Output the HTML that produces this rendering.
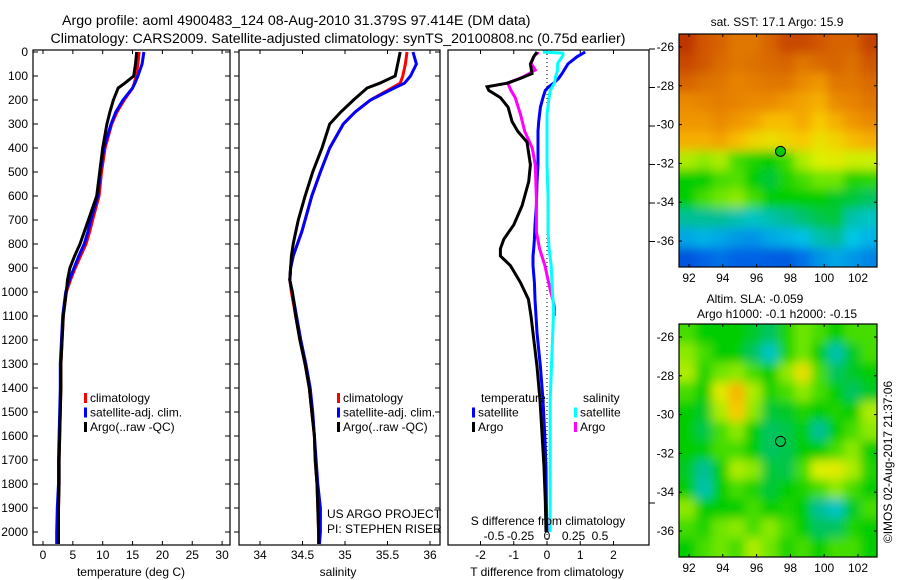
<!DOCTYPE html>
<html><head><meta charset="utf-8"><style>
html,body{margin:0;padding:0;background:#fff}
svg{display:block;font-family:"Liberation Sans",sans-serif;font-size:12px}
</style></head><body>
<svg id="c" width="900" height="580" viewBox="0 0 900 580" xmlns="http://www.w3.org/2000/svg">
<defs>
<filter id="bl" x="0" y="0" width="1" height="1"><feGaussianBlur stdDeviation="5"/></filter>
<clipPath id="clipA"><rect x="679" y="34" width="198" height="233"/></clipPath>
<clipPath id="clipB"><rect x="679" y="324" width="198" height="233"/></clipPath>
</defs>
<text x="62" y="25" font-size="14.2">Argo profile: aoml 4900483_124 08-Aug-2010 31.379S 97.414E (DM data)</text>
<text x="338" y="43" font-size="14.2" text-anchor="middle">Climatology: CARS2009. Satellite-adjusted climatology: synTS_20100808.nc (0.75d earlier)</text>
<g id="g"></g>
</svg>
<script>
// ---------- data ----------
const depthT = [0,50,100,130,150,200,250,300,400,500,600,700,750,800,850,900,950,1000,1100,1200,1300,1400,1500,1600,1700,1800,1900,2000,2050];
const tempClim = [16.1,15.9,15.6,15.3,15.0,13.6,12.4,11.5,10.4,9.8,9.4,8.3,7.8,7.2,6.3,5.4,4.6,3.9,3.4,3.2,3.0,3.0,2.9,2.8,2.7,2.7,2.6,2.6,2.5];
const tempSat  = [16.9,16.6,15.9,15.4,15.0,13.4,12.2,11.4,10.2,9.6,9.2,8.0,7.5,6.9,6.0,5.2,4.4,3.8,3.3,3.1,2.9,2.9,2.8,2.7,2.6,2.6,2.4,2.3,2.3];
const tempArgo = [15.7,15.5,15.2,13.7,12.6,11.8,11.2,10.7,10.0,9.5,9.0,7.6,6.9,6.2,5.3,4.5,4.1,3.9,3.4,3.2,3.0,3.0,2.9,2.8,2.7,2.7,2.6,2.6,2.6];
const salClim = [35.73,35.71,35.68,35.65,35.55,35.30,35.12,34.98,34.82,34.71,34.61,34.53,34.49,34.44,34.39,34.36,34.35,34.37,34.42,34.47,34.53,34.58,34.61,34.64,34.65,34.67,34.68,34.69,34.70];
const salSat  = [35.80,35.84,35.77,35.70,35.58,35.30,35.12,34.98,34.82,34.71,34.61,34.53,34.49,34.44,34.39,34.36,34.35,34.38,34.43,34.48,34.54,34.59,34.62,34.64,34.66,34.68,34.71,34.71,34.70];
const salArgo = [35.65,35.62,35.59,35.41,35.26,35.10,34.95,34.82,34.73,34.62,34.53,34.45,34.42,34.39,34.37,34.36,34.35,34.38,34.42,34.47,34.53,34.58,34.61,34.64,34.65,34.67,34.68,34.69,34.69];
const depthD = [0,20,50,90,110,130,145,160,190,230,290,330,375,470,540,640,720,780,820,850,890,960,1030,1100,1170,1310,1450,1590,1730,1870,2000];
const dTSat  = [1.15,0.9,0.63,0.45,0.35,0.2,0.05,-0.05,-0.12,-0.2,-0.25,-0.27,-0.27,-0.27,-0.3,-0.32,-0.36,-0.38,-0.4,-0.42,-0.42,-0.38,-0.36,-0.33,-0.3,-0.2,-0.12,-0.07,-0.03,-0.02,0];
const dTArgo = [-0.3,-0.4,-0.5,-0.45,-0.8,-1.2,-1.8,-1.75,-1.4,-1.17,-1.05,-0.88,-0.6,-0.5,-0.55,-0.75,-1.0,-1.3,-1.4,-1.4,-1.1,-0.8,-0.56,-0.48,-0.42,-0.3,-0.21,-0.15,-0.09,-0.05,-0.03];
const depthS = [0,5,15,48,75,105,130,160,190,260,330,400,470,610,750,820,890,990,1060,1100,1450,2000];
const dSSat  = [-0.04,0.15,0.15,0.1,0.1,0.08,0.07,0.03,0.02,0,0,0,0,0.01,0.01,0.02,0.04,0.05,0.06,0.06,0.03,0.03];
const dSArgo = [-0.09,-0.09,-0.12,-0.15,-0.11,-0.23,-0.37,-0.34,-0.3,-0.25,-0.21,-0.14,-0.11,-0.1,-0.1,-0.07,-0.02,0.03,0.07,0.07,null,null];
const depthTicks = [0,100,200,300,400,500,600,700,800,900,1000,1100,1200,1300,1400,1500,1600,1700,1800,1900,2000];
const tempTicks = [0,5,10,15,20,25,30];
const salTicks = [34,34.5,35,35.5,36];
const salTickLabels = ["34","34.5","35","35.5","36"];
const dTTicks = [-2,-1,0,1,2];
const dSTicks = [-0.5,-0.25,0,0.25,0.5];
const lonTicks = [92,94,96,98,100,102];
const latTicks = [-26,-28,-30,-32,-34,-36];
const argoLon = 97.414, argoLat = -31.379;
const sstGrid = [
[0.95,0.9,0.88,0.85,0.85,0.88,0.92,0.92,0.9,0.88,0.88,0.93],
[0.92,0.9,0.87,0.85,0.86,0.87,0.88,0.85,0.87,0.88,0.86,0.9],
[0.88,0.86,0.85,0.83,0.84,0.85,0.85,0.82,0.8,0.85,0.85,0.87],
[0.82,0.83,0.84,0.83,0.82,0.82,0.8,0.78,0.76,0.82,0.83,0.85],
[0.8,0.8,0.82,0.8,0.78,0.74,0.74,0.77,0.72,0.76,0.8,0.82],
[0.76,0.76,0.78,0.74,0.7,0.68,0.7,0.72,0.68,0.7,0.74,0.76],
[0.62,0.6,0.62,0.55,0.52,0.5,0.54,0.62,0.65,0.66,0.64,0.64],
[0.5,0.5,0.55,0.56,0.5,0.47,0.52,0.55,0.58,0.58,0.52,0.53],
[0.5,0.55,0.58,0.6,0.55,0.5,0.5,0.5,0.5,0.48,0.47,0.45],
[0.42,0.42,0.42,0.4,0.38,0.4,0.42,0.44,0.46,0.47,0.4,0.38],
[0.3,0.32,0.3,0.28,0.27,0.3,0.32,0.34,0.4,0.42,0.35,0.32],
[0.15,0.2,0.22,0.2,0.2,0.18,0.17,0.22,0.27,0.3,0.28,0.25]];
const slaGrid = [
[0.55,0.5,0.5,0.5,0.48,0.45,0.52,0.58,0.55,0.5,0.55,0.55],
[0.6,0.55,0.5,0.5,0.45,0.38,0.52,0.58,0.5,0.4,0.48,0.55],
[0.62,0.52,0.58,0.6,0.55,0.5,0.6,0.68,0.55,0.45,0.48,0.5],
[0.55,0.5,0.66,0.75,0.62,0.52,0.55,0.6,0.55,0.5,0.45,0.48],
[0.5,0.48,0.62,0.72,0.6,0.47,0.48,0.52,0.5,0.52,0.5,0.62],
[0.5,0.46,0.55,0.6,0.5,0.45,0.46,0.5,0.42,0.5,0.55,0.6],
[0.5,0.5,0.55,0.55,0.5,0.45,0.46,0.5,0.5,0.55,0.6,0.5],
[0.48,0.42,0.5,0.62,0.6,0.47,0.46,0.55,0.65,0.66,0.62,0.52],
[0.5,0.4,0.5,0.55,0.52,0.47,0.5,0.52,0.55,0.6,0.55,0.5],
[0.6,0.5,0.5,0.5,0.55,0.5,0.52,0.5,0.42,0.38,0.48,0.55],
[0.55,0.52,0.58,0.6,0.55,0.6,0.55,0.5,0.45,0.45,0.52,0.5],
[0.5,0.55,0.58,0.55,0.62,0.58,0.52,0.55,0.5,0.55,0.55,0.5]];

// ---------- helpers ----------
const NS="http://www.w3.org/2000/svg";
const G=document.getElementById('g');
function mk(tag,attrs,parent){const e=document.createElementNS(NS,tag);for(const k in attrs)e.setAttribute(k,attrs[k]);(parent||G).appendChild(e);return e;}
function txt(x,y,s,anchor,parent){const t=mk('text',{x:x,y:y,'text-anchor':anchor||'start'},parent);t.textContent=s;return t;}
const yD=d=>52+d*0.24;
const FT=50,FB=545;
const xT=v=>43+v*5.97;
const xS=v=>260+(v-34)*85;
const xDT=v=>547+v*33.25;
const xDS=v=>547+v*106;

function frame(x0,x1,name){
  const r=mk('rect',{x:x0,y:FT,width:x1-x0,height:FB-FT,fill:'none',stroke:'#000','stroke-width':1.2});
  
  
}
function stepPath(xs,ds,fx){
  let p='';let started=false;
  for(let i=0;i<ds.length;i++){
    if(xs[i]===null){continue;}
    const x=fx(xs[i]),y=yD(ds[i]);
    if(!started){p+='M'+x.toFixed(1)+','+y.toFixed(1);started=true;}
    else p+='L'+x.toFixed(1)+','+y.toFixed(1);
  }
  return p;
}
function line(xs,ds,fx,color,name,parent){
  const e=mk('path',{d:stepPath(xs,ds,fx),fill:'none',stroke:color,'stroke-width':3,'stroke-linejoin':'miter'},parent);
  
  
}

// ---------- panel 1: temperature ----------
const p1=mk('g',{});


frame(33,230,'temperature-frame');
depthTicks.forEach(d=>{
  const y=yD(d);
  mk('line',{x1:33,x2:38,y1:y,y2:y,stroke:'#000'},p1);
  mk('line',{x1:225,x2:230,y1:y,y2:y,stroke:'#000'},p1);
  mk('line',{x1:234,x2:239,y1:y,y2:y,stroke:'#000'},p1);
  mk('line',{x1:435,x2:440,y1:y,y2:y,stroke:'#000'},p1);
  const t=txt(28,y+4,String(d),'end',p1);
  
  
});
tempTicks.forEach(v=>{
  const x=xT(v);
  mk('line',{x1:x,x2:x,y1:FT,y2:FT+4,stroke:'#000'},p1);
  mk('line',{x1:x,x2:x,y1:FB,y2:FB-4,stroke:'#000'},p1);
  const t=txt(x,559,String(v),'middle',p1);
  
  
});
{const t=txt(131,576,'temperature (deg C)','middle',p1);}
line(tempClim,depthT,xT,'#f00','temp-climatology-line',p1);
line(tempSat,depthT,xT,'#00f','temp-satellite-line',p1);
line(tempArgo,depthT,xT,'#000','temp-argo-line',p1);

function legend(x,y,items,parent,name){
  const lg=mk('g',{},parent);
  
  
  items.forEach((it,i)=>{
    const yy=y+i*14.5;
    mk('rect',{x:x,y:yy-9,width:3,height:10,fill:it[0]},lg);
    const t=txt(x+6,yy,it[1],'start',lg);
    
    
  });
}
legend(84,402,[['#f00','climatology'],['#00f','satellite-adj. clim.'],['#000','Argo(..raw -QC)']],p1,'temperature-legend');

// ---------- panel 2: salinity ----------
const p2=mk('g',{});


frame(239,440,'salinity-frame');
salTicks.forEach((v,i)=>{
  const x=xS(v);
  mk('line',{x1:x,x2:x,y1:FT,y2:FT+4,stroke:'#000'},p2);
  mk('line',{x1:x,x2:x,y1:FB,y2:FB-4,stroke:'#000'},p2);
  const t=txt(x,559,salTickLabels[i],'middle',p2);
  
  
});
{const t=txt(338,576,'salinity','middle',p2);}
line(salClim,depthT,xS,'#f00','sal-climatology-line',p2);
line(salSat,depthT,xS,'#00f','sal-satellite-line',p2);
line(salArgo,depthT,xS,'#000','sal-argo-line',p2);
legend(337,402,[['#f00','climatology'],['#00f','satellite-adj. clim.'],['#000','Argo(..raw -QC)']],p2,'salinity-legend');
{const t=txt(327,518,'US ARGO PROJECT','start',p2);
 const t2=txt(327,533,'PI: STEPHEN RISER','start',p2);}

// ---------- panel 3: differences ----------
const p3=mk('g',{});


frame(448,649,'difference-frame');
for(let i=0;i<6;i++){const y=49+i*38.5;mk('line',{x1:649,x2:655,y1:y,y2:y,stroke:'#000'},p3);}
mk('line',{x1:649,x2:655,y1:503,y2:503,stroke:'#000'},p3);
dTTicks.forEach(v=>{
  const x=xDT(v);
  mk('line',{x1:x,x2:x,y1:FT,y2:FT+4,stroke:'#000'},p3);
  mk('line',{x1:x,x2:x,y1:FB,y2:FB-4,stroke:'#000'},p3);
  const t=txt(x,559,String(v),'middle',p3);
  
  
});
{const t=txt(547,576,'T difference from climatology','middle',p3);}
mk('line',{x1:xDT(0),x2:xDT(0),y1:FT,y2:FB,stroke:'#000','stroke-dasharray':'1,3'},p3);
line(dTSat,depthD,xDT,'#00f','t-diff-satellite-line',p3);
line(dSArgo,depthS,xDS,'#f0f','s-diff-argo-line',p3);
line(dSSat,depthS,xDS,'#0ff','s-diff-satellite-line',p3);
line(dTArgo,depthD,xDT,'#000','t-diff-argo-line',p3);
{const tl=txt(481,402,'temperature','start',p3);
 const sl=txt(583,402,'salinity','start',p3);}
legend(472,416.5,[['#00f','satellite'],['#000','Argo']],p3,'t-diff-legend');
legend(574,416.5,[['#0ff','satellite'],['#f0f','Argo']],p3,'s-diff-legend');
{const t=txt(548,525,'S difference from climatology','middle',p3);}
dSTicks.forEach(v=>{
  const t=txt(xDS(v),540,String(v),'middle',p3);
  
  
});

// ---------- maps ----------
function jet(v){
  const stops=[[0,[0,40,190]],[0.2,[0,100,230]],[0.35,[0,200,230]],[0.42,[0,190,150]],[0.5,[0,205,0]],[0.58,[110,230,0]],[0.65,[220,240,0]],[0.72,[250,200,0]],[0.8,[240,150,0]],[0.88,[215,100,0]],[1,[170,20,0]]];
  for(let i=1;i<stops.length;i++){
    if(v<=stops[i][0]){const a=stops[i-1],b=stops[i];const f=(v-a[0])/(b[0]-a[0]);
      return 'rgb('+a[1].map((c,j)=>Math.round(c+(b[1][j]-c)*f)).join(',')+')';}
  }
  return 'rgb(170,20,0)';
}
function map(y0,grid,name,titleLines,clipId){
  const x0=679,x1=877,y1=y0+233;
  const lonX=l=>689+(l-92)*16.9;
  const latY=l=>y0+13+(-26-l)*19.4;
  const mg=mk('g',{});
  
  
  const clipG=mk('g',{'clip-path':'url(#'+clipId+')'},mg);
  const blurG=mk('g',{filter:'url(#bl)'},clipG);
  const nr=grid.length,nc=grid[0].length;
  const cw=(x1-x0)/nc, ch=(y1-y0)/nr, pad=20;
  grid.forEach((row,r)=>row.forEach((v,c)=>{
    let cx=x0+c*cw, cy=y0+r*ch, w=cw+0.6, h=ch+0.6;
    if(c===0){cx-=pad;w+=pad;} if(c===nc-1){w+=pad;}
    if(r===0){cy-=pad;h+=pad;} if(r===nr-1){h+=pad;}
    const cell=mk('rect',{x:cx.toFixed(2),y:cy.toFixed(2),width:w.toFixed(2),height:h.toFixed(2),fill:jet(v)},blurG);
    
    
  }));
  mk('rect',{x:x0,y:y0,width:x1-x0,height:y1-y0,fill:'none',stroke:'#000','stroke-width':1.2},mg);
  lonTicks.forEach(l=>{
    const x=lonX(l);
    mk('line',{x1:x,x2:x,y1:y0,y2:y0+3,stroke:'#000'},mg);
    mk('line',{x1:x,x2:x,y1:y1,y2:y1-3,stroke:'#000'},mg);
    const t=txt(x,y1+15,String(l),'middle',mg);
    
    
  });
  latTicks.forEach(l=>{
    const y=latY(l);
    mk('line',{x1:x0,x2:x0+3,y1:y,y2:y,stroke:'#000'},mg);
    mk('line',{x1:x1,x2:x1-3,y1:y,y2:y,stroke:'#000'},mg);
    const t=txt(674,y+4,String(l),'end',mg);
    
    
  });
  const c=mk('circle',{cx:lonX(argoLon),cy:latY(argoLat),r:5,fill:grid===sstGrid?'#0c0':'none',stroke:'#000','stroke-width':1},mg);
  
  
  titleLines.forEach(tl=>{
    const t=txt(tl[0],tl[1],tl[2],'middle',mg);
    
    
  });
}
map(34,sstGrid,'sst-map',[[777,26,'sat. SST: 17.1  Argo: 15.9']],'clipA');
map(324,slaGrid,'sla-map',[[755,303,'Altim. SLA: -0.059'],[777,318,'Argo h1000: -0.1 h2000: -0.15']],'clipB');
{const t=txt(0,0,'©IMOS 02-Aug-2017 21:37:06','middle');t.setAttribute('transform','translate(892,462) rotate(-90)');
 }
</script>
</body></html>
